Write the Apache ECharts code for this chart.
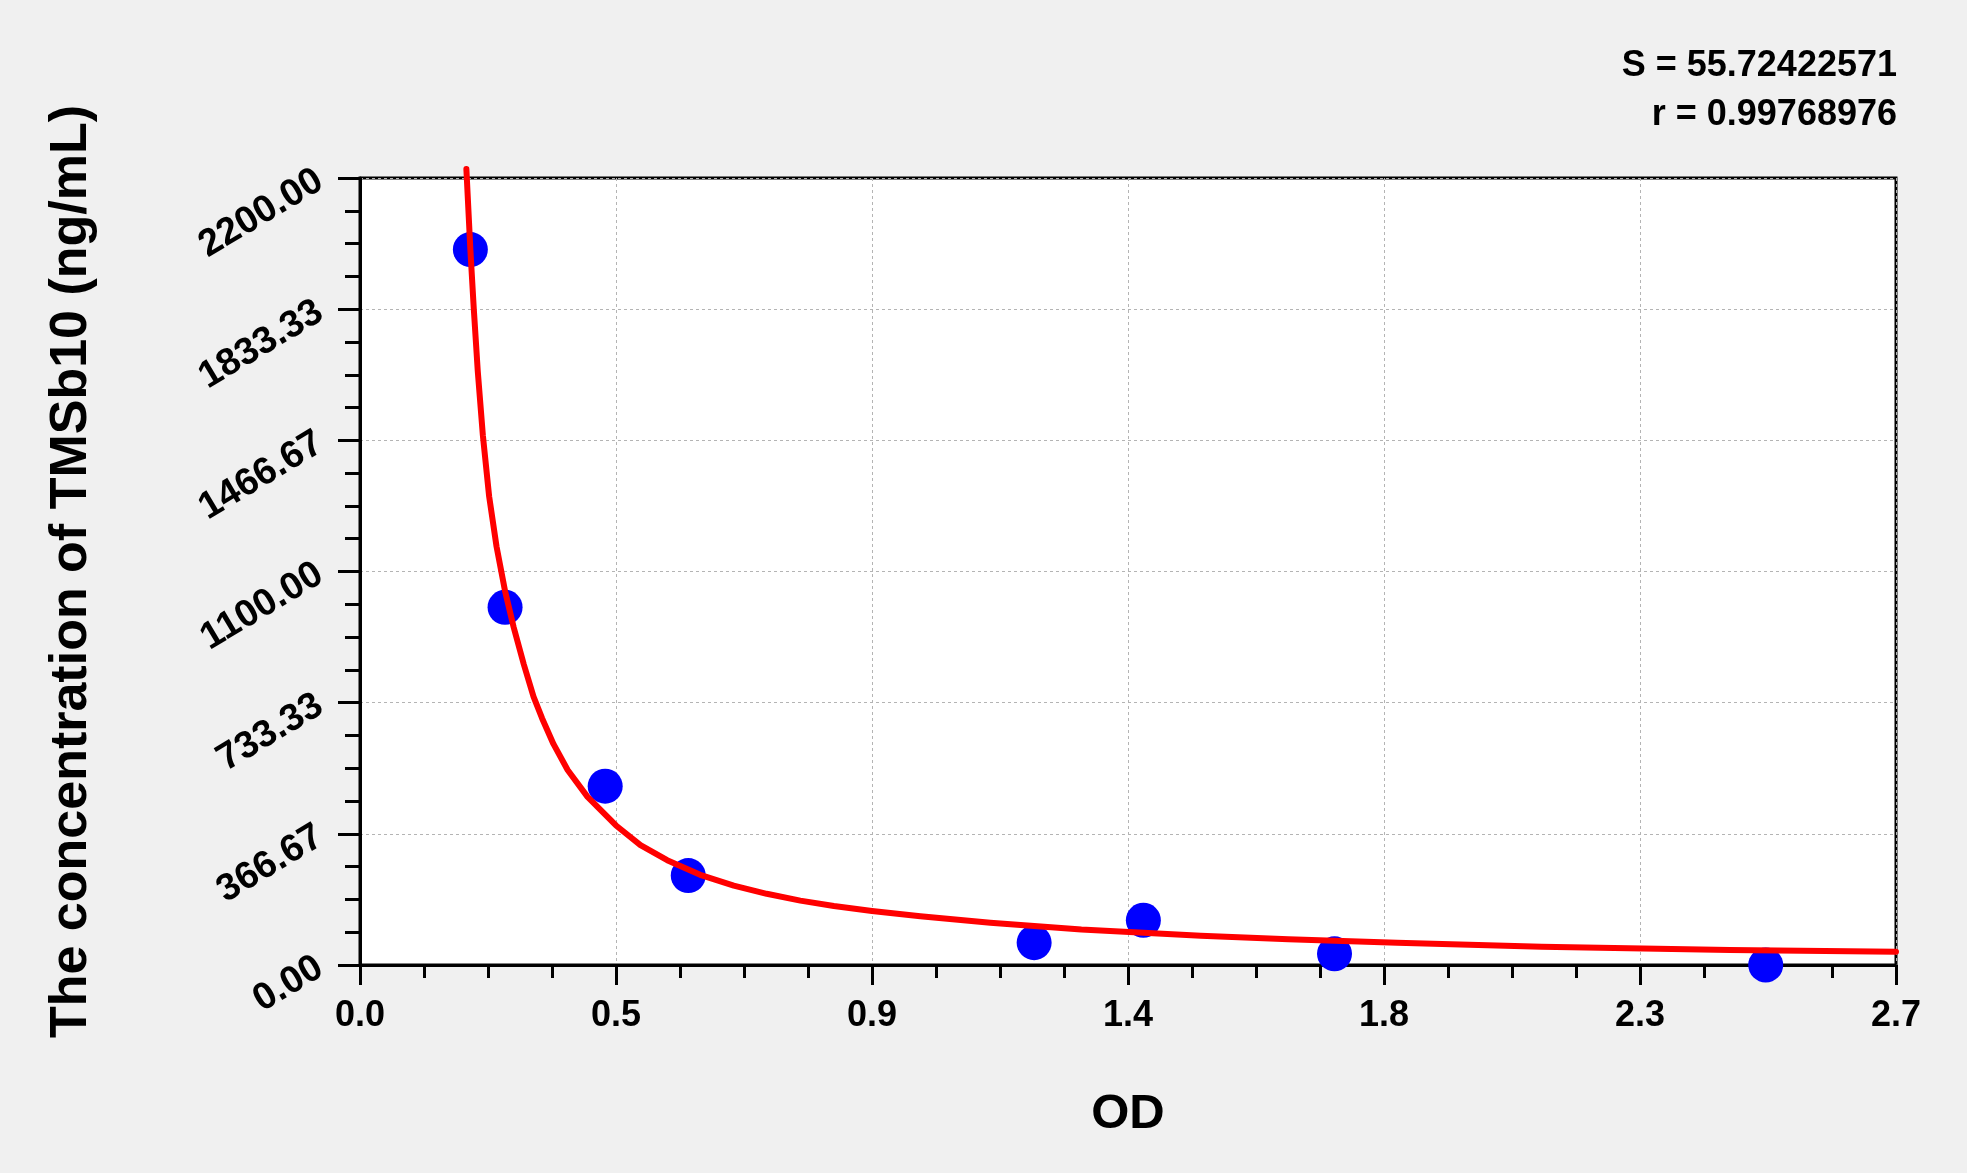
<!DOCTYPE html>
<html>
<head>
<meta charset="utf-8">
<title>TMSb10 standard curve</title>
<script src="https://cdn.jsdelivr.net/npm/echarts@6/dist/echarts.min.js"></script>
<style>
  html, body { margin: 0; padding: 0; background: #f0f0f0; }
  #chart { width: 1967px; height: 1173px; }
</style>
</head>
<body>
<div id="chart"></div>
<script>
// standard points (OD, concentration)
const stdOD = [0.194, 0.255, 0.431, 0.577, 1.185, 1.377, 1.713, 2.471];
const stdConc = [2000, 1000, 500, 250, 62.5, 125, 31.25, 0];

// fitted curve
const curveOD = [0.187, 0.194, 0.200, 0.207, 0.216, 0.227, 0.240, 0.255, 0.270, 0.288,
  0.305, 0.320, 0.340, 0.365, 0.400, 0.450, 0.493, 0.540, 0.598, 0.657,
  0.715, 0.774, 0.833, 0.900, 0.985, 1.108, 1.268, 1.478, 1.632, 1.823,
  2.077, 2.408, 2.700];
const curveConc = [2225, 2000, 1835, 1660, 1480, 1310, 1170, 1045, 945, 840,
  750, 690, 618, 545, 470, 390, 335, 293, 252, 222,
  199, 180, 165, 151, 136, 118, 99, 82, 72, 62,
  51, 42, 37];

// tick labels
const xTickLabels = ['0.0', '0.5', '0.9', '1.4', '1.8', '2.3', '2.7'];
const yTickLabels = ['0.00', '366.67', '733.33', '1100.00', '1466.67', '1833.33', '2200.00'];

const statsText = ['S = 55.72422571', 'r = 0.99768976'];

const FONT = '"Liberation Sans", Arial, sans-serif';

const chart = echarts.init(document.getElementById('chart'));

const statStyle = {
  fontFamily: FONT,
  fontSize: 36,
  fontWeight: 'bold',
  fill: '#000'
};

const option = {
  backgroundColor: '#f0f0f0',
  animation: false,
  graphic: [
    { type: 'text', right: 70, top: 48, style: Object.assign({ text: statsText[0] }, statStyle) },
    { type: 'text', right: 70, top: 97, style: Object.assign({ text: statsText[1] }, statStyle) }
  ],
  grid: {
    left: 360,
    right: 71,
    top: 178,
    bottom: 208,
    show: true,
    backgroundColor: '#ffffff',
    borderColor: '#000',
    borderWidth: 3
  },
  xAxis: {
    type: 'value',
    min: 0,
    max: 2.7,
    interval: 0.45,
    name: 'OD',
    nameLocation: 'middle',
    nameGap: 125,
    nameTextStyle: { fontFamily: FONT, fontSize: 49, fontWeight: 'bold', color: '#000' },
    axisLine: { show: true, onZero: false, lineStyle: { color: '#000', width: 3 } },
    axisTick: { show: true, inside: false, length: 20, lineStyle: { color: '#000', width: 3 } },
    minorTick: { show: true, splitNumber: 4, length: 13, lineStyle: { color: '#000', width: 3 } },
    axisLabel: {
      margin: 33,
      fontFamily: FONT,
      fontSize: 36,
      fontWeight: 'bold',
      color: '#000',
      formatter: v => xTickLabels[Math.round(v / 0.45)]
    },
    splitLine: { show: true, lineStyle: { color: '#b4b4b4', width: 1, type: [3, 3] } }
  },
  yAxis: {
    type: 'value',
    min: 0,
    max: 2200,
    interval: 2200 / 6,
    name: 'The concentration of TMSb10 (ng/mL)',
    nameLocation: 'middle',
    nameGap: 262,
    nameTextStyle: { fontFamily: FONT, fontSize: 52, fontWeight: 'bold', color: '#000' },
    axisLine: { show: true, onZero: false, lineStyle: { color: '#000', width: 3 } },
    axisTick: { show: true, inside: false, length: 22, lineStyle: { color: '#000', width: 3 } },
    minorTick: { show: true, splitNumber: 4, length: 15, lineStyle: { color: '#000', width: 3 } },
    axisLabel: {
      margin: 40,
      rotate: 31,
      fontFamily: FONT,
      fontSize: 38,
      fontWeight: 'bold',
      color: '#000',
      formatter: v => yTickLabels[Math.round(v / (2200 / 6))]
    },
    splitLine: { show: true, lineStyle: { color: '#b4b4b4', width: 1, type: [3, 3] } }
  },
  series: [
    {
      name: 'standards',
      type: 'scatter',
      symbol: 'circle',
      symbolSize: 35,
      clip: false,
      itemStyle: { color: '#0000ff', opacity: 1 },
      z: 2,
      data: stdOD.map((x, i) => [x, stdConc[i]])
    },
    {
      name: 'fit',
      type: 'line',
      showSymbol: false,
      smooth: false,
      sampling: null,
      clip: false,
      lineStyle: { color: '#ff0000', width: 6, join: 'round', cap: 'round' },
      z: 3,
      data: curveOD.map((x, i) => [x, curveConc[i]])
    }
  ]
};

chart.setOption(option);
</script>
</body>
</html>
